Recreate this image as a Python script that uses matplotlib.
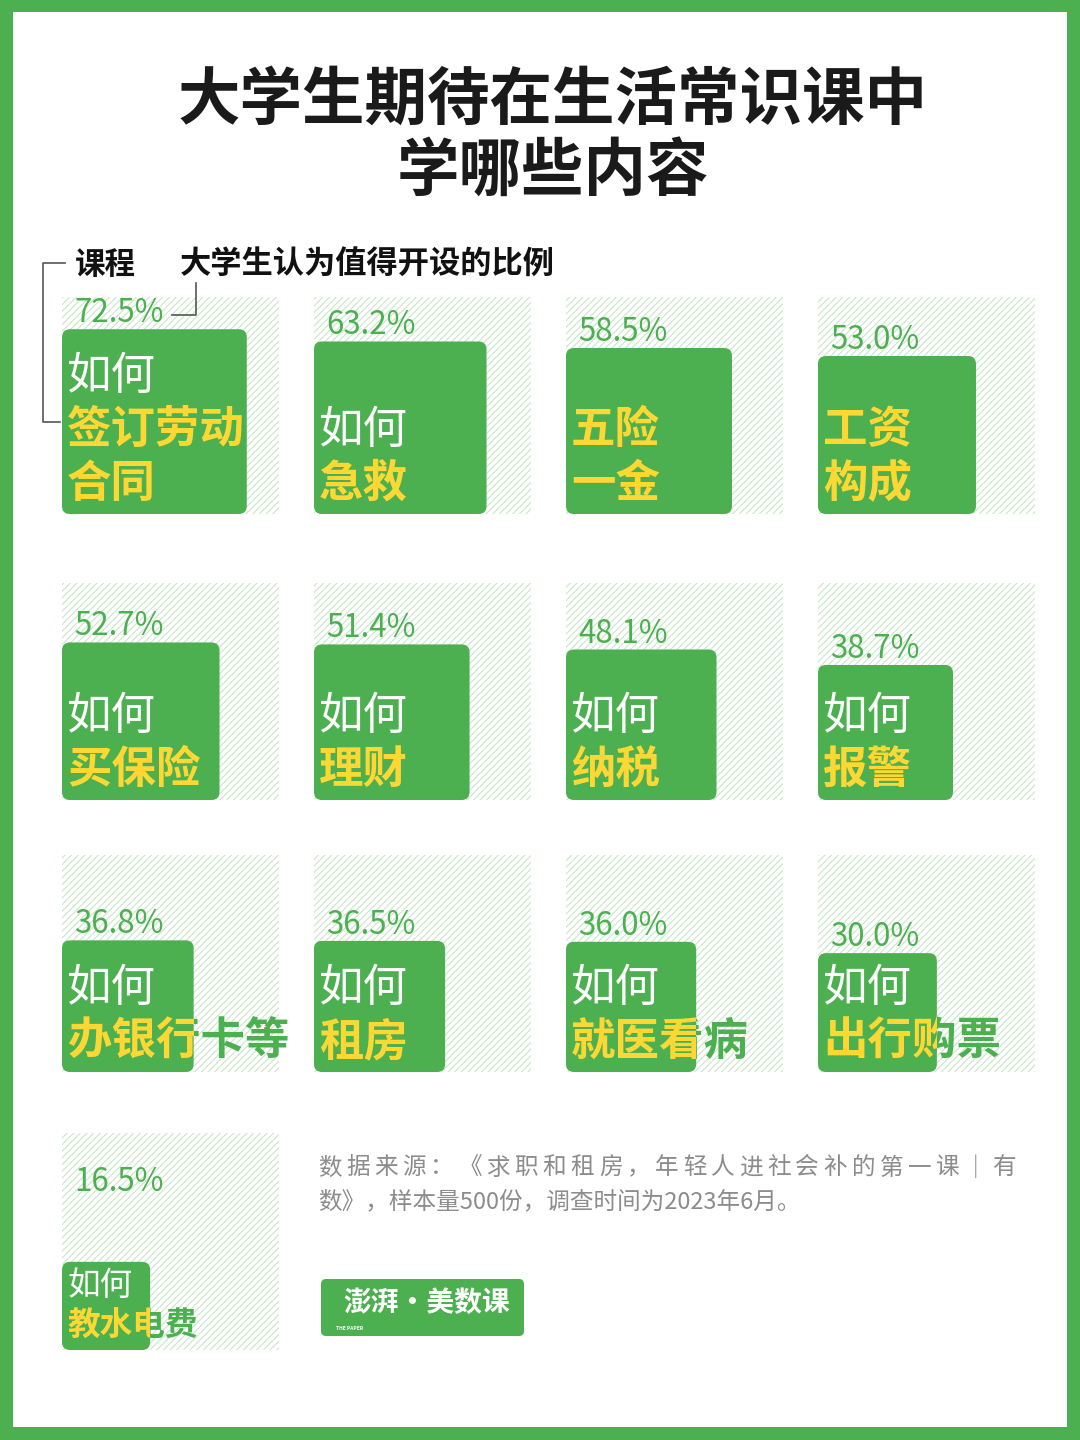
import matplotlib
matplotlib.use("Agg")
import matplotlib.pyplot as plt
from matplotlib.patches import Rectangle, FancyBboxPatch
from matplotlib.transforms import Bbox
import numpy as np

plt.rcParams["font.family"] = ["Noto Sans CJK SC", "DejaVu Sans"]
plt.rcParams["hatch.linewidth"] = 0.8

# 数据
prefixes = ["如何", "如何", "", "", "如何", "如何", "如何", "如何",
            "如何", "如何", "如何", "如何", "如何"]
topics = ["签订劳动\n合同", "急救", "五险\n一金", "工资\n构成", "买保险", "理财",
          "纳税", "报警", "办银行卡等", "租房", "就医看病", "出行购票", "教水电费"]
shares = [72.5, 63.2, 58.5, 53.0, 52.7, 51.4, 48.1, 38.7, 36.8, 36.5, 36.0, 30.0, 16.5]

title_lines = ["大学生期待在生活常识课中", "学哪些内容"]
source_line1 = "数据来源：《求职和租房，年轻人进社会补的第一课｜有"
source_line2 = "数》，样本量500份，调查时间为2023年6月。"

GREEN = "#4CAF50"
YELLOW = "#FDD835"
HATCH = "#C8E6C9"
W, H = 1080, 1440

fig = plt.figure(figsize=(W / 100, H / 100), dpi=100)
fig.patch.set_facecolor(GREEN)
ax = fig.add_axes([0, 0, 1, 1])
ax.set_xlim(0, W)
ax.set_ylim(H, 0)
ax.axis("off")

ax.add_patch(Rectangle((13, 12), W - 26, H - 25, facecolor="white", edgecolor="none", zorder=0))

# 标题
for k, line in enumerate(title_lines):
    ax.text(553, 100 + 72 * k, line, fontsize=45, fontweight="heavy", color="#1A1A1A",
            ha="center", va="center")

# 图例说明
ax.text(75, 265, "课程", fontsize=22, fontweight="bold", color="#111111", ha="left", va="center")
ax.text(180, 265, "大学生认为值得开设的比例", fontsize=22.5, fontweight="bold", color="#111111",
        ha="left", va="center")
ax.plot([65, 43, 43, 60], [263, 263, 422, 422], color="#555555", lw=1.2, zorder=5)
ax.plot([172, 196, 196], [315, 315, 283], color="#555555", lw=1.2, zorder=5)

CELL = 217
row_tops = [297, 583, 855, 1133]


def display_bbox(x0, y0, x1, y1):
    p = ax.transData.transform([[x0, y0], [x1, y1]])
    return Bbox.from_extents(p[:, 0].min(), p[:, 1].min(), p[:, 0].max(), p[:, 1].max())


for i, (pre, topic, share) in enumerate(zip(prefixes, topics, shares)):
    col, row = i % 4, i // 4
    x0 = 62 + 252 * col
    top = row_tops[row]
    bottom = top + CELL
    side = CELL * np.sqrt(share / 100)

    ax.add_patch(Rectangle((x0, top), CELL, CELL, facecolor="white", edgecolor=HATCH,
                           lw=0, hatch="/////", zorder=1))
    ax.add_patch(FancyBboxPatch((x0, bottom - side), side, side,
                                boxstyle="round,pad=0,rounding_size=8",
                                facecolor=GREEN, edgecolor="none", zorder=3))

    big = side > 100
    fs = 32 if big else 23.5
    pitch = 54 if big else 40
    off = 30 if big else 24
    lines = ([pre] if pre else []) + topic.split("\n")
    clip = display_bbox(x0, bottom - side, x0 + side, bottom)
    for k, line in enumerate(reversed(lines)):
        y = bottom - off - k * pitch
        is_pre = bool(pre) and k == len(lines) - 1
        weight = "normal" if is_pre else "bold"
        inner = "white" if is_pre else YELLOW
        ax.text(x0 + 5, y, line, fontsize=fs, fontweight=weight, color=GREEN,
                ha="left", va="center", zorder=2)
        t = ax.text(x0 + 5, y, line, fontsize=fs, fontweight=weight, color=inner,
                    ha="left", va="center", zorder=4)
        t.set_clip_box(clip)
        t.set_clip_on(True)

    ly = bottom - side - 16 if big else top + 49
    ax.text(x0 + 12, ly, f"{share:.1f}%", fontsize=22.5, fontweight="medium", color=GREEN,
            ha="left", va="center", zorder=5)

# 数据来源
step = 702 / len(source_line1)
for k, ch in enumerate(source_line1):
    ax.text(318 + k * step, 1168, ch, fontsize=17, color="#8C8C8C", ha="left", va="center")
ax.text(318, 1202, source_line2, fontsize=17, color="#8C8C8C", ha="left", va="center")

# 标志
ax.add_patch(FancyBboxPatch((321, 1279), 203, 57, boxstyle="round,pad=0,rounding_size=5",
                            facecolor=GREEN, edgecolor="none", zorder=3))
ax.text(427, 1303, "澎湃·美数课", fontsize=20, fontweight="bold", color="white",
        ha="center", va="center", zorder=4)
ax.text(336, 1329, "THE PAPER", fontsize=3.5, fontweight="bold", color="white",
        ha="left", va="center", zorder=4)

fig.savefig("out.png", dpi=100, facecolor=fig.get_facecolor())
